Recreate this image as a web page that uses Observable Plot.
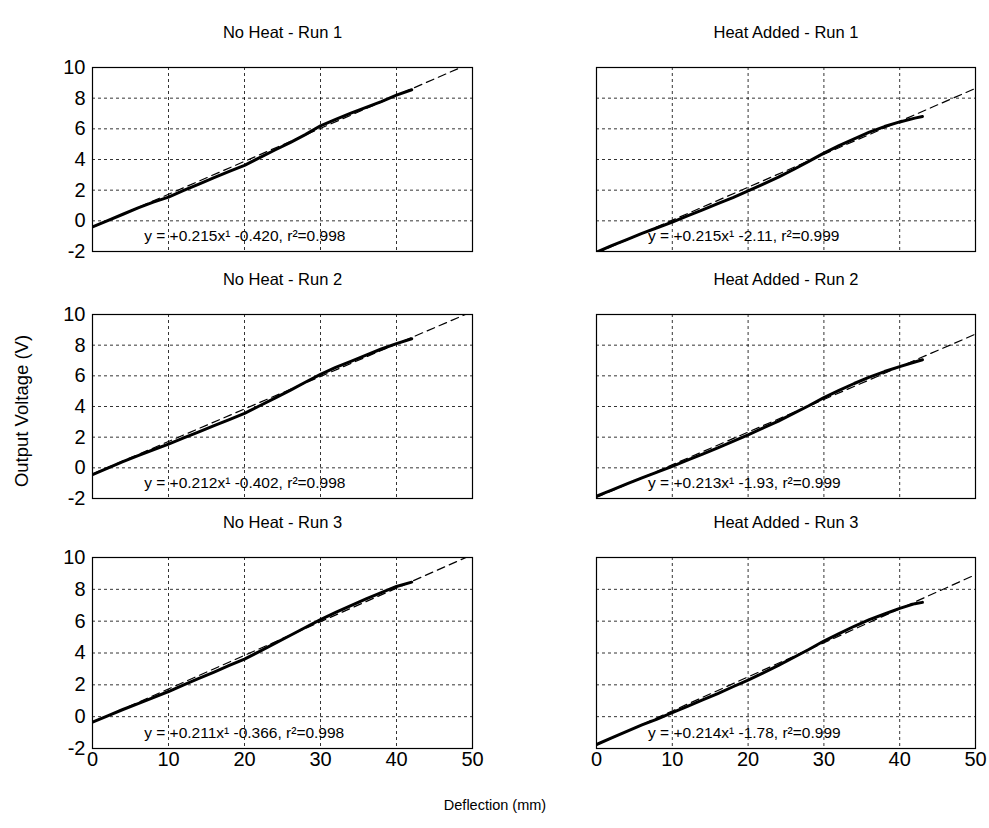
<!DOCTYPE html>
<html>
<head>
<meta charset="utf-8">
<script src="https://cdn.jsdelivr.net/npm/d3@7"></script>
<script src="https://cdn.jsdelivr.net/npm/@observablehq/plot@0.6"></script>
<style>
  html, body { margin: 0; padding: 0; background: #fff; }
  #chart { position: relative; width: 989px; height: 828px; background: #fff;
           font-family: "Liberation Sans", Arial, sans-serif; color: #000; }
  #chart svg { position: absolute; overflow: visible; }
  .lab { position: absolute; white-space: nowrap; }
</style>
</head>
<body>
<div id="chart"></div>
<script>
// Deflection readings (mm) and output voltage (V) for each run
const xNoHeat = [0, 2, 4, 6, 8, 10, 12, 14, 16, 18, 20, 22, 24, 26, 28, 30, 32, 34, 36, 38, 40, 42];
const xHeat = [0, 2, 4, 6, 8, 10, 12, 14, 16, 18, 20, 22, 24, 26, 28, 30, 32, 34, 36, 38, 40, 42, 43];

const vNoHeat1 = [-0.40, 0.02, 0.43, 0.85, 1.22, 1.55, 1.98, 2.40, 2.82, 3.22, 3.62, 4.12, 4.62, 5.10, 5.62, 6.20, 6.62, 7.02, 7.40, 7.78, 8.20, 8.55];
const vNoHeat2 = [-0.45, -0.02, 0.40, 0.80, 1.18, 1.55, 1.95, 2.35, 2.75, 3.15, 3.55, 4.05, 4.55, 5.05, 5.58, 6.10, 6.55, 6.95, 7.35, 7.75, 8.10, 8.42];
const vNoHeat3 = [-0.35, 0.05, 0.45, 0.82, 1.20, 1.58, 2.00, 2.40, 2.80, 3.22, 3.62, 4.10, 4.60, 5.10, 5.60, 6.10, 6.55, 6.98, 7.40, 7.80, 8.18, 8.45];
const vHeat1 = [-2.05, -1.62, -1.22, -0.82, -0.45, -0.08, 0.32, 0.72, 1.12, 1.52, 1.95, 2.40, 2.85, 3.35, 3.88, 4.42, 4.90, 5.35, 5.78, 6.15, 6.45, 6.70, 6.80];
const vHeat2 = [-1.85, -1.45, -1.05, -0.65, -0.28, 0.10, 0.50, 0.90, 1.30, 1.72, 2.15, 2.60, 3.05, 3.55, 4.05, 4.58, 5.05, 5.50, 5.92, 6.28, 6.60, 6.90, 7.05];
const vHeat3 = [-1.75, -1.33, -0.92, -0.52, -0.15, 0.25, 0.65, 1.05, 1.45, 1.88, 2.30, 2.75, 3.22, 3.72, 4.22, 4.75, 5.22, 5.68, 6.10, 6.45, 6.80, 7.10, 7.18];

// Linear fit coefficients: slope, intercept, r²
const slopes = [0.215, 0.212, 0.211, 0.215, 0.213, 0.214];
const intercepts = [-0.420, -0.402, -0.366, -2.11, -1.93, -1.78];
const interceptLabels = ["-0.420", "-0.402", "-0.366", "-2.11", "-1.93", "-1.78"];
const rSquared = ["0.998", "0.998", "0.998", "0.999", "0.999", "0.999"];

const titles = ["No Heat - Run 1", "No Heat - Run 2", "No Heat - Run 3",
                "Heat Added - Run 1", "Heat Added - Run 2", "Heat Added - Run 3"];
const xTicks = [0, 10, 20, 30, 40, 50];
const yTicks = [-2, 0, 2, 4, 6, 8, 10];
const xGrid = [10, 20, 30, 40];
const yGrid = [0, 2, 4, 6, 8];
const fitSpan = [0, 50];

const series = [
  {x: xNoHeat, v: vNoHeat1}, {x: xNoHeat, v: vNoHeat2}, {x: xNoHeat, v: vNoHeat3},
  {x: xHeat, v: vHeat1}, {x: xHeat, v: vHeat2}, {x: xHeat, v: vHeat3}
];

// Panel geometry
const colLeft = [92, 596];
const colWidth = [380, 379];
const rowTop = [67, 314, 557];
const rowHeight = [184, 184, 191];
const mL = 50, mR = 15, mT = 55, mB = 40;

const chart = document.getElementById("chart");

for (let i = 0; i < 6; i++) {
  const col = i < 3 ? 0 : 1;
  const row = i % 3;
  const s = series[i];
  const pts = s.x.map((x, k) => ({x, v: s.v[k]}));
  const fit = fitSpan.map(x => ({x, v: slopes[i] * x + intercepts[i]}));
  const eq = `y = +${slopes[i].toFixed(3)}x\u00b9 ${interceptLabels[i]}, r\u00b2=${rSquared[i]}`;

  const svg = Plot.plot({
    width: mL + colWidth[col] + mR,
    height: mT + rowHeight[row] + mB,
    marginLeft: mL, marginRight: mR, marginTop: mT, marginBottom: mB,
    style: {background: "transparent", fontFamily: "'Liberation Sans', Arial, sans-serif", fontSize: "20px", color: "#000", overflow: "visible"},
    x: {domain: [0, 50], ticks: xTicks, tickSize: 0, tickPadding: 3, label: null,
        tickFormat: d => String(d), axis: row === 2 ? "bottom" : null},
    y: {domain: [-2, 10], ticks: yTicks, tickSize: 0, tickPadding: 7, label: null,
        tickFormat: d => String(d), axis: col === 0 ? "left" : null},
    marks: [
      Plot.ruleX(xGrid, {stroke: "#000", strokeWidth: 0.8, strokeDasharray: "3,3"}),
      Plot.ruleY(yGrid, {stroke: "#000", strokeWidth: 0.8, strokeDasharray: "3,3"}),
      Plot.line(fit, {x: "x", y: "v", stroke: "#000", strokeWidth: 1.2, strokeDasharray: "8,5", clip: true}),
      Plot.line(pts, {x: "x", y: "v", stroke: "#000", strokeWidth: 3, curve: "linear", clip: true}),
      Plot.text([eq], {x: 6.8, y: -1.0, text: d => d, textAnchor: "start", fontSize: 15.5, fill: "#000"}),
      Plot.text([titles[i]], {frameAnchor: "top", text: d => d, dy: -41, fontSize: 16.5, fill: "#000"}),
      Plot.frame({stroke: "#000", strokeWidth: 1.2})
    ]
  });
  svg.style.left = (colLeft[col] - mL) + "px";
  svg.style.top = (rowTop[row] - mT) + "px";
  chart.appendChild(svg);
}

// Shared axis titles
const yl = document.createElement("div");
yl.className = "lab";
yl.textContent = "Output Voltage (V)";
yl.style.fontSize = "18.5px";
yl.style.left = "22px";
yl.style.top = "411px";
yl.style.transform = "translate(-50%, -50%) rotate(-90deg)";
chart.appendChild(yl);

const xl = document.createElement("div");
xl.className = "lab";
xl.textContent = "Deflection (mm)";
xl.style.fontSize = "14.5px";
xl.style.left = "495px";
xl.style.top = "805px";
xl.style.transform = "translate(-50%, -50%)";
chart.appendChild(xl);
</script>
</body>
</html>
